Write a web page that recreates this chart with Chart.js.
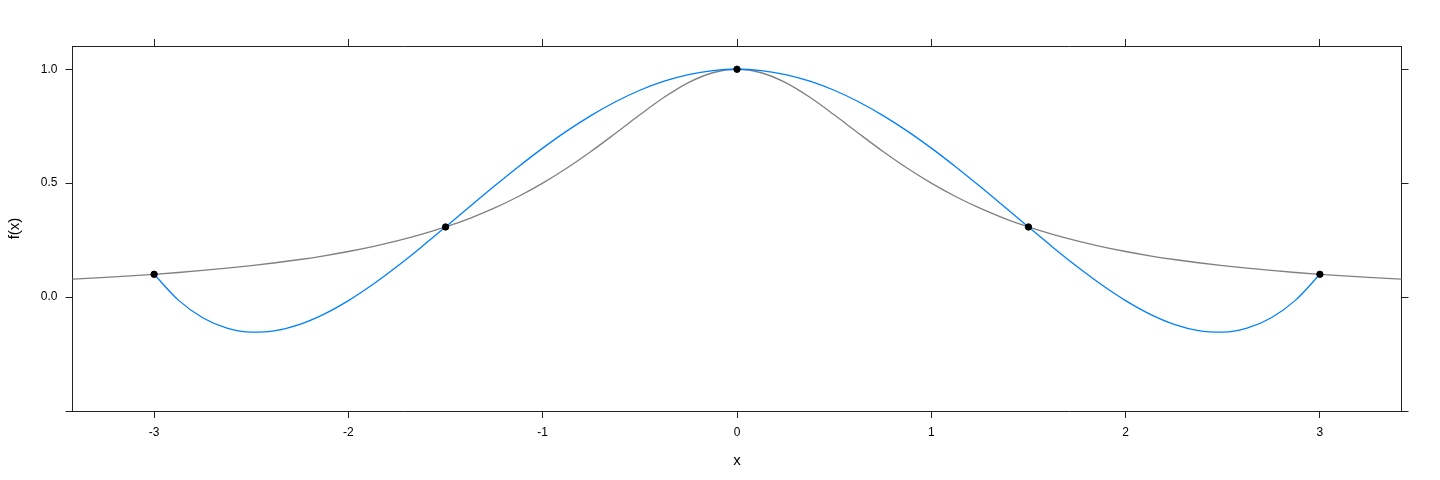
<!DOCTYPE html>
<html>
<head>
<meta charset="utf-8">
<script src="https://cdn.jsdelivr.net/npm/chart.js@4"></script>
<style>
  html, body { margin: 0; padding: 0; background: #fff; }
</style>
</head>
<body>
<canvas id="chart" width="1440" height="480"></canvas>
<script>
// f(x) = 1/(1+x^2), read along x
const curveX = [-3.5, -3.25, -3, -2.875, -2.75, -2.625, -2.5, -2.375, -2.25, -2.125, -2, -1.875, -1.75, -1.625,
  -1.5, -1.375, -1.25, -1.125, -1, -0.875, -0.75, -0.625, -0.5, -0.375, -0.25, -0.125, 0,
  0.125, 0.25, 0.375, 0.5, 0.625, 0.75, 0.875, 1, 1.125, 1.25, 1.375, 1.5,
  1.625, 1.75, 1.875, 2, 2.125, 2.25, 2.375, 2.5, 2.625, 2.75, 2.875, 3, 3.25, 3.5];
const curveY = [0.0755, 0.0865, 0.1, 0.1079, 0.1168, 0.1267, 0.1379, 0.1506, 0.1649, 0.1813, 0.2, 0.2215, 0.2462, 0.2747,
  0.3077, 0.3459, 0.3902, 0.4414, 0.5, 0.5664, 0.64, 0.7191, 0.8, 0.8767, 0.9412, 0.9846, 1,
  0.9846, 0.9412, 0.8767, 0.8, 0.7191, 0.64, 0.5664, 0.5, 0.4414, 0.3902, 0.3459, 0.3077,
  0.2747, 0.2462, 0.2215, 0.2, 0.1813, 0.1649, 0.1506, 0.1379, 0.1267, 0.1168, 0.1079, 0.1, 0.0865, 0.0755];

// interpolating polynomial through the 5 nodes
const interpX = [-3, -2.875, -2.75, -2.625, -2.5, -2.375, -2.25, -2.125, -2, -1.875, -1.75, -1.625,
  -1.5, -1.375, -1.25, -1.125, -1, -0.875, -0.75, -0.625, -0.5, -0.375, -0.25, -0.125, 0,
  0.125, 0.25, 0.375, 0.5, 0.625, 0.75, 0.875, 1, 1.125, 1.25, 1.375, 1.5,
  1.625, 1.75, 1.875, 2, 2.125, 2.25, 2.375, 2.5, 2.625, 2.75, 2.875, 3];
const interpY = [0.1, -0.0134, -0.0908, -0.1363, -0.1538, -0.1471, -0.1196, -0.0746, -0.0154, 0.0552, 0.1343, 0.2192,
  0.3077, 0.3974, 0.4862, 0.5722, 0.6538, 0.7295, 0.7977, 0.8575, 0.9077, 0.9476, 0.9766, 0.9941, 1,
  0.9941, 0.9766, 0.9476, 0.9077, 0.8575, 0.7977, 0.7295, 0.6538, 0.5722, 0.4862, 0.3974, 0.3077,
  0.2192, 0.1343, 0.0552, -0.0154, -0.0746, -0.1196, -0.1471, -0.1538, -0.1363, -0.0908, -0.0134, 0.1];

const nodeX = [-3, -1.5, 0, 1.5, 3];
const nodeY = [0.1, 0.3077, 1, 0.3077, 0.1];

const xTicks = [-3, -2, -1, 0, 1, 2, 3];
const yTicks = [-0.5, 0, 0.5, 1];
const yTickLabels = ['', '0.0', '0.5', '1.0'];

const toPoints = (xs, ys) => xs.map((x, i) => ({ x: x, y: ys[i] }));

const FONT = 'Liberation Sans, Arial, sans-serif';
const AXIS = '#222';

function axisBase(position, ticks, min, max, showLabels) {
  return {
    type: 'linear',
    position: position,
    min: min,
    max: max,
    afterBuildTicks: (scale) => { scale.ticks = ticks.map(v => ({ value: v })); },
    grid: { drawOnChartArea: false, drawTicks: true, tickLength: 7, color: AXIS, lineWidth: 1 },
    border: { display: true, color: AXIS, width: 1 },
    ticks: { display: showLabels, color: '#000', font: { family: FONT, size: 12 } },
  };
}

const xScale = axisBase('bottom', xTicks, -3.42, 3.42, true);
xScale.ticks.padding = 7;
xScale.ticks.maxRotation = 0;
xScale.title = { display: true, text: 'x', color: '#000', font: { family: FONT, size: 15 }, padding: { top: 4, bottom: 10 } };
xScale.afterFit = (s) => { s.height = 69; };

const x2Scale = axisBase('top', xTicks, -3.42, 3.42, false);
x2Scale.afterFit = (s) => { s.height = 46; };

const yScale = axisBase('left', yTicks, -0.5, 1.102, true);
yScale.ticks.padding = 8;
yScale.ticks.callback = (v) => yTickLabels[yTicks.indexOf(v)];
yScale.title = { display: true, text: 'f(x)', color: '#000', font: { family: FONT, size: 15 }, padding: { top: 6, bottom: 4 } };
yScale.afterFit = (s) => { s.width = 72.5; };

const y2Scale = axisBase('right', yTicks, -0.5, 1.102, false);
y2Scale.afterFit = (s) => { s.width = 38.5; };

new Chart(document.getElementById('chart'), {
  type: 'scatter',
  data: {
    datasets: [
      {
        label: 'nodes',
        data: toPoints(nodeX, nodeY),
        showLine: false,
        pointRadius: 3.2,
        pointBackgroundColor: '#000',
        pointBorderColor: '#000',
        order: 0,
      },
      {
        label: 'interpolant',
        data: toPoints(interpX, interpY),
        showLine: true,
        borderColor: '#0080ff',
        borderWidth: 1.3,
        pointRadius: 0,
        cubicInterpolationMode: 'monotone',
        order: 1,
      },
      {
        label: 'f',
        data: toPoints(curveX, curveY),
        showLine: true,
        borderColor: '#808080',
        borderWidth: 1.3,
        pointRadius: 0,
        cubicInterpolationMode: 'monotone',
        order: 2,
      },
    ],
  },
  options: {
    responsive: false,
    animation: false,
    devicePixelRatio: 1,
    layout: { padding: 0 },
    plugins: { legend: { display: false }, tooltip: { enabled: false } },
    scales: { x: xScale, x2: x2Scale, y: yScale, y2: y2Scale },
  },
});
</script>
</body>
</html>
